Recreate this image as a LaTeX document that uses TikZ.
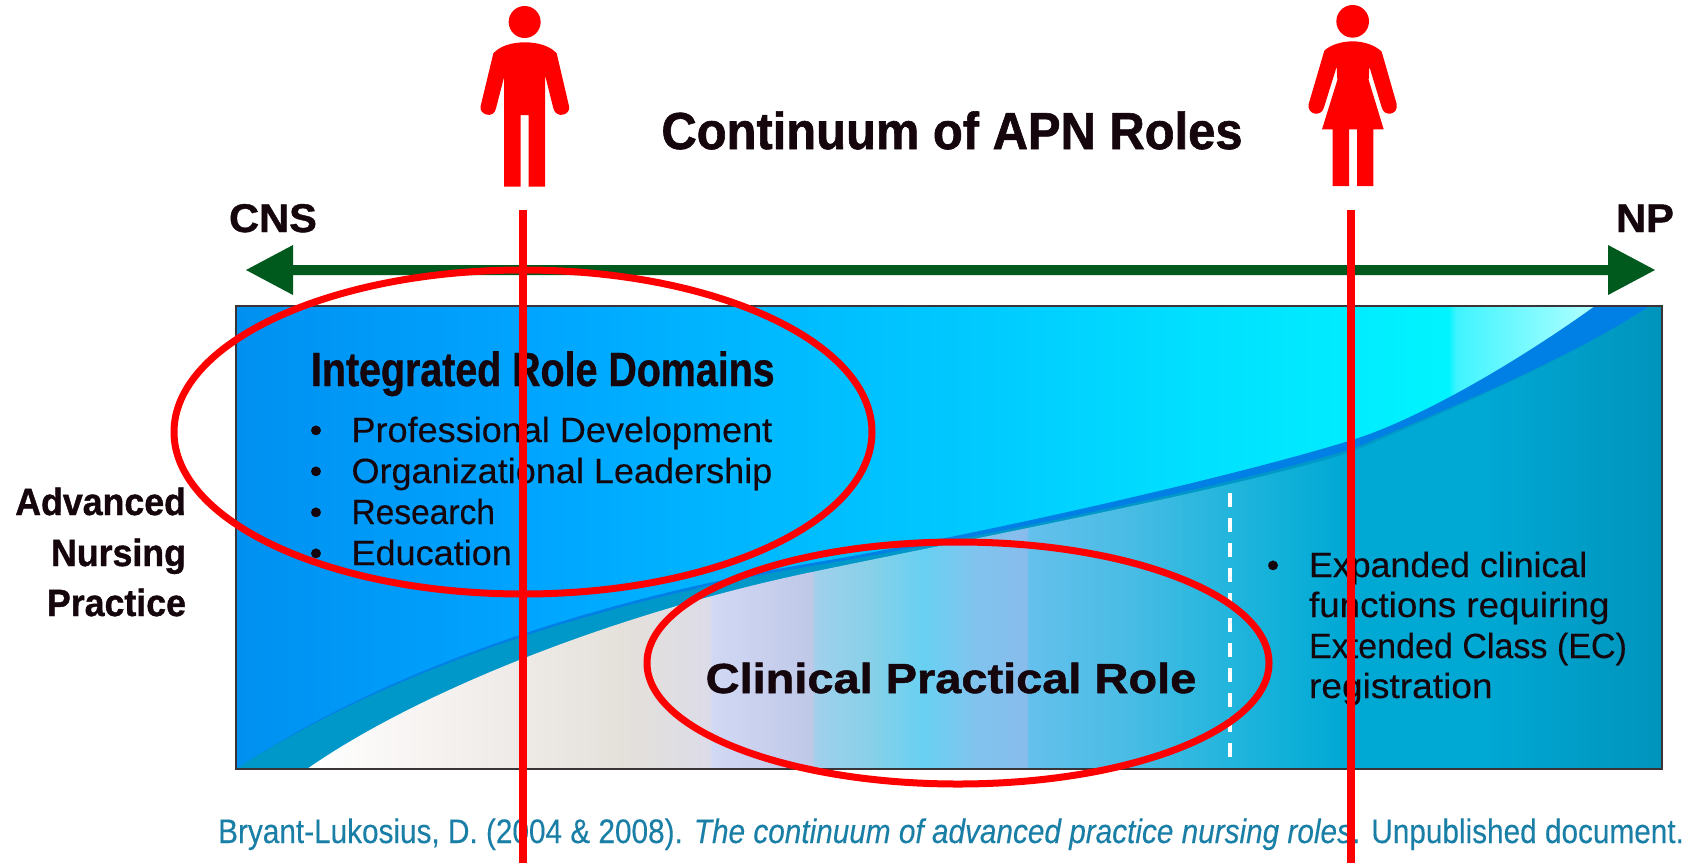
\documentclass[tikz,border=0pt]{standalone}
\usepackage{fontspec}
\setmainfont{Liberation Sans}
\newfontfamily\bodyAfont[FakeStretch=1.03,FakeBold=0.25]{Liberation Sans}
\newfontfamily\bodyBfont[FakeStretch=0.973,FakeBold=0.25]{Liberation Sans}
\newfontfamily\citefont[FakeStretch=0.875,FakeBold=0.2,ItalicFeatures={FakeStretch=0.875,FakeBold=0.2}]{Liberation Sans}
\newfontfamily\titlefont[FakeStretch=0.94,BoldFeatures={FakeBold=1.2}]{Liberation Sans}
\newfontfamily\irdfont[FakeStretch=0.82,BoldFeatures={FakeBold=0.8}]{Liberation Sans}
\newfontfamily\sidefont[FakeStretch=0.94,BoldFeatures={FakeBold=1}]{Liberation Sans}
\newfontfamily\endfont[FakeStretch=1.04,BoldFeatures={FakeBold=1}]{Liberation Sans}
\newfontfamily\cprfont[FakeStretch=1.118,BoldFeatures={FakeBold=1.2}]{Liberation Sans}
\definecolor{inkc}{HTML}{14060C}
\definecolor{cite}{HTML}{1A7FA6}
\definecolor{roleRed}{HTML}{FF0000}
\definecolor{arrowG}{HTML}{005A1E}
\definecolor{bandB}{HTML}{0080E4}
\definecolor{bandT}{HTML}{0098C8}
\definecolor{frameC}{HTML}{3A3438}
\definecolor{a1}{HTML}{0090F0}\definecolor{a2}{HTML}{00A4FF}\definecolor{a3}{HTML}{00BCFF}
\definecolor{a4}{HTML}{00CCFF}\definecolor{a5}{HTML}{00E0FF}\definecolor{a6}{HTML}{00F0FF}
\definecolor{a7}{HTML}{00F4FF}\definecolor{a8}{HTML}{40F4FF}\definecolor{a9}{HTML}{B0FFFF}
\definecolor{b1}{HTML}{FFFFFF}\definecolor{b2}{HTML}{F4F0EE}\definecolor{b3}{HTML}{E4E0DA}
\definecolor{b4}{HTML}{DCDCE8}\definecolor{b5}{HTML}{D0D8F4}\definecolor{b6}{HTML}{C0C8E8}
\definecolor{b7}{HTML}{A0D0EC}\definecolor{b8}{HTML}{88D0E8}\definecolor{b9}{HTML}{68D0F2}
\definecolor{b10}{HTML}{80C4EE}\definecolor{b11}{HTML}{88BCEC}\definecolor{b12}{HTML}{64C0EC}
\definecolor{b13}{HTML}{48BCE4}\definecolor{b14}{HTML}{30B8E0}\definecolor{b15}{HTML}{10B0D8}
\definecolor{b16}{HTML}{00A8D4}\definecolor{b17}{HTML}{0094BC}
\pgfdeclarehorizontalshading{upperfield}{100bp}{color(0bp)=(a1);color(25bp)=(a1);color(35.06bp)=(a2);color(44.8bp)=(a3);color(51.8bp)=(a4);color(58.8bp)=(a5);color(65.8bp)=(a6);color(67.5bp)=(a7);color(67.8bp)=(a8);color(72.6bp)=(a9);color(75bp)=(a9);color(100bp)=(a9)}
\pgfdeclarehorizontalshading{lowerfield}{100bp}{color(0bp)=(b1);color(27.6bp)=(b1);color(32.7bp)=(b2);color(38.6bp)=(b3);color(41.6bp)=(b4);color(41.7bp)=(b5);color(45.2bp)=(b6);color(45.3bp)=(b7);color(47.2bp)=(b8);color(49.1bp)=(b9);color(50.9bp)=(b10);color(52.7bp)=(b11);color(52.8bp)=(b12);color(56.4bp)=(b13);color(58.4bp)=(b14);color(61.8bp)=(b15);color(64bp)=(b16);color(68.8bp)=(b16);color(75bp)=(b17);color(100bp)=(b17)}
\usetikzlibrary{shapes.geometric}
\tikzset{
  x=1pt,y=-1pt,
  ink/.style={text=inkc,inner sep=0pt,outer sep=0pt},
  headlabel/.style={ink,anchor=base west,font={\irdfont\bfseries\fontsize{48}{50}\selectfont}},
  bodyA/.style={ink,anchor=base west,font={\bodyAfont\fontsize{35}{37}\selectfont}},
  bodyB/.style={ink,anchor=base west,font={\bodyBfont\fontsize{35}{37}\selectfont}},
  dotmark/.style={ink,anchor=base,font={\bodyAfont\fontsize{35}{37}\selectfont}},
  sidelabel/.style={ink,anchor=base east,font={\sidefont\bfseries\fontsize{38}{40}\selectfont}},
  endlabel/.style={ink,anchor=base,font={\endfont\bfseries\fontsize{40}{42}\selectfont}},
  redline/.style={draw=roleRed,line width=7.5pt},
  redring/.style={draw=roleRed,line width=7pt,fill=none,ellipse,inner sep=0pt,outer sep=0pt},
  person/.style={fill=roleRed,draw=none},
}
\def\ucurve{(236,769) .. controls (400,660) and (620,595) .. (812,563) .. controls (962,538) and (1230,478) .. (1352,440) .. controls (1420,419) and (1520,360) .. (1595,306)}
\def\mcurve{(236,769) .. controls (400,663) and (620,598) .. (812,566) .. controls (962,541) and (1230,486) .. (1352,449) .. controls (1420,420) and (1560,365) .. (1650,306)}
\def\lcurve{(307,769) .. controls (420,690) and (620,612) .. (812,572) .. controls (960,541) and (1230,490) .. (1352,452) .. controls (1420,422) and (1560,365) .. (1652,306)}
\begin{document}
\begin{tikzpicture}
\useasboundingbox (0,0) rectangle (1691,863);
\fill[white] (0,0) rectangle (1691,863);
% field
\begin{scope}
\clip (236,306) rectangle (1662,769);
\shade[shading=upperfield] (236,306) rectangle (1662,769);
\fill[bandB] \ucurve -- (1662,306) -- (1662,769) -- cycle;
\fill[bandT] \mcurve -- (1662,306) -- (1662,769) -- cycle;
\begin{scope}
\clip \lcurve -- (1662,306) -- (1662,769) -- cycle;
\shade[shading=lowerfield] (236,306) rectangle (1662,769);
\end{scope}
\end{scope}
\node[draw=frameC,line width=1.8pt,inner sep=0pt,outer sep=0pt,minimum width=1426pt,minimum height=463pt,fill=none] (field) at (949,537.5) {};
% dashed divider
\coordinate (dashtop) at (1230,493);
\coordinate (dashend) at (1230,765);
\draw[white,line width=4.5pt,dash pattern=on 14pt off 11pt] (dashtop) -- (dashend);
% arrow
\coordinate (arrL) at (246,270);
\coordinate (arrR) at (1655,270);
\fill[arrowG] (arrL) -- (293,245) -- (293,265) -- (1608,265) -- (1608,245) -- (arrR) -- (1608,295) -- (1608,275) -- (293,275) -- (293,295) -- cycle;
% texts
\node[ink,anchor=base,font={\titlefont\bfseries\fontsize{52}{54}\selectfont}] (title) at (952,149) {Continuum of APN Roles};
\node[endlabel] (cns) at (273,232) {CNS};
\node[endlabel] (np) at (1645,232) {NP};
\node[sidelabel] (adv) at (186,515) {Advanced};
\node[sidelabel] (nur) at (186,566) {Nursing};
\node[sidelabel] (pra) at (186,616) {Practice};
\node[headlabel] (ird) at (311,386) {Integrated Role Domains};
\node[dotmark] (d1) at (316,442) {•};
\node[dotmark] (d2) at (316,483) {•};
\node[dotmark] (d3) at (316,524) {•};
\node[dotmark] (d4) at (316,565) {•};
\node[bodyA] (t1) at (351.5,442) {Professional Development};
\node[bodyA] (t2) at (351.5,483) {Organizational Leadership};
\node[bodyA] (t3) at (351.5,524) {\scalebox{0.93}[1]{Research}};
\node[bodyA] (t4) at (351.5,565) {Education};
\node[ink,anchor=base,font={\cprfont\bfseries\fontsize{42}{44}\selectfont}] (cpr) at (951,693) {Clinical Practical Role};
\node[dotmark] (d5) at (1273,577) {•};
\node[bodyB] (e1) at (1309,577) {\scalebox{1.05}[1]{Expanded clinical}};
\node[bodyB] (e2) at (1309,617) {\scalebox{1.08}[1]{functions requiring}};
\node[bodyB] (e3) at (1309,658) {Extended Class (EC)};
\node[bodyB] (e4) at (1309,698) {\scalebox{1.09}[1]{registration}};
\node[text=cite,inner sep=0pt,anchor=base west,font={\citefont\fontsize{34}{36}\selectfont}] (src) at (218,843) {Bryant-Lukosius, D. (2004 \& 2008). \textit{The continuum of advanced practice nursing roles}. Unpublished document.};
% overlays
\node[redring,minimum width=698pt,minimum height=324pt] (ringA) at (523,432) {};
\node[redring,minimum width=622pt,minimum height=242pt] (ringB) at (958,663) {};
\coordinate (lineAtop) at (523,210);
\coordinate (lineAend) at (523,863);
\coordinate (lineBtop) at (1351,210);
\coordinate (lineBend) at (1351,863);
\draw[redline] (lineAtop) -- (lineAend);
\draw[redline] (lineBtop) -- (lineBend);
% man
\begin{scope}[shift={(440,0)},xscale=1/3,yscale=1/3]
\fill[person] (254,66) circle[radius=48];
\fill[person] (254,127) .. controls (215,127) and (180,138) .. (160,160) -- (122,318) .. controls (116,345) and (162,358) .. (168,325) -- (192,232) -- (192,560) -- (242,560) -- (242,345) -- (266,345) -- (266,560) -- (315,560) -- (315,225) -- (340,325) .. controls (348,358) and (394,345) .. (387,318) -- (350,160) .. controls (330,138) and (295,127) .. (254,127) -- cycle;
\end{scope}
% woman
\begin{scope}[shift={(1280,0)},xscale=1/3,yscale=1/3]
\fill[person] (218,64) circle[radius=49];
\fill[person] (218,124) .. controls (185,124) and (150,135) .. (133,152) -- (86,312) .. controls (80,345) and (125,352) .. (132,322) -- (170,200) -- (172,240) -- (126,388) -- (158,388) -- (158,558) -- (207,558) -- (207,388) -- (231,388) -- (231,558) -- (280,558) -- (280,388) -- (311,388) -- (266,240) -- (268,200) -- (305,322) .. controls (312,352) and (356,345) .. (350,312) -- (305,155) .. controls (285,135) and (250,124) .. (218,124) -- cycle;
\end{scope}
\end{tikzpicture}
\end{document}
